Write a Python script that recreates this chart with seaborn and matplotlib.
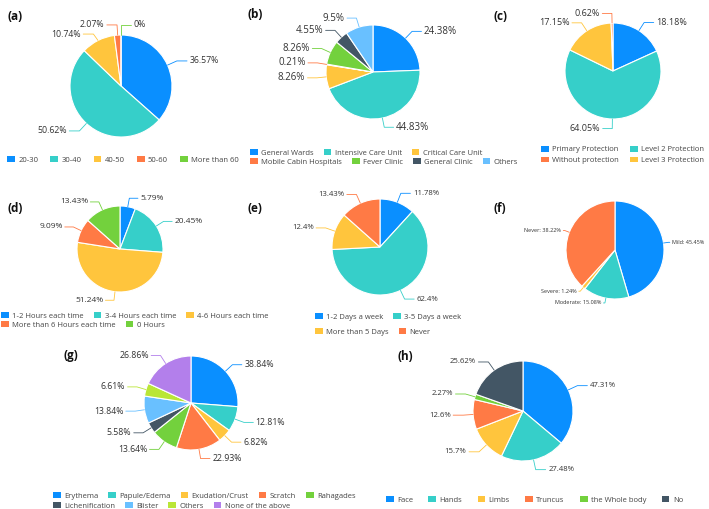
import numpy as np
import matplotlib.pyplot as plt
import seaborn as sns
from matplotlib.patches import Patch

# ---- data ----
a_labels = ['20-30', '30-40', '40-50', '50-60', 'More than 60']
a_values = [36.57, 50.62, 10.74, 2.07, 0]

b_labels = ['General Wards', 'Intensive Care Unit', 'Critical Care Unit',
            'Mobile Cabin Hospitals', 'Fever Clinic', 'General Clinic', 'Others']
b_values = [24.38, 44.83, 8.26, 0.21, 8.26, 4.55, 9.5]

c_labels = ['Primary Protection', 'Level 2 Protection', 'Level 3 Protection', 'Without protection']
c_values = [18.18, 64.05, 17.15, 0.62]

d_labels = ['1-2 Hours each time', '3-4 Hours each time', '4-6 Hours each time',
            'More than 6 Hours each time', '0 Hours']
d_values = [5.79, 20.45, 51.24, 9.09, 13.43]

e_labels = ['1-2 Days a week', '3-5 Days a week', 'More than 5 Days', 'Never']
e_values = [11.78, 62.4, 12.4, 13.43]

f_labels = ['Mild', 'Moderate', 'Severe', 'Never']
f_values = [45.45, 15.08, 1.24, 38.22]

g_labels = ['Erythema', 'Papule/Edema', 'Exudation/Crust', 'Scratch', 'Rahagades',
            'Lichenification', 'Blister', 'Others', 'None of the above']
g_values = [38.84, 12.81, 6.82, 22.93, 13.64, 5.58, 13.84, 6.61, 26.86]

h_labels = ['Face', 'Hands', 'Limbs', 'Truncus', 'the Whole body', 'No']
h_values = [47.31, 27.48, 15.7, 12.6, 2.27, 25.62]

# colours
BLUE, TEAL, GOLD, ORANGE = '#0A8FFF', '#36CFC9', '#FFC53D', '#FF7A45'
GREEN, DARK, LIGHT, LIME, PURPLE = '#73D13D', '#435665', '#69C0FF', '#BAE637', '#B37FEB'

sns.set_theme(style='white')
plt.rcParams['font.family'] = ['Open Sans', 'DejaVu Sans']

W, H = 709, 509
fig = plt.figure(figsize=(W / 100, H / 100), dpi=100)


def fx(x):
    return x / W


def fy(y):
    return 1 - y / H


def pie_panel(cx, cy, r, values, colors, texts, fs, ext=0.2, elbow=1.2):
    span = 1.9
    ax = fig.add_axes([fx(cx - span * r), fy(cy + span * r), 2 * span * r / W, 2 * span * r / H])
    wedges, _ = ax.pie(values, colors=colors, startangle=90, counterclock=False,
                       radius=1, wedgeprops=dict(edgecolor='white', linewidth=0.8))
    ax.set_xlim(-span, span)
    ax.set_ylim(-span, span)
    ax.axis('off')

    # label anchors, then push apart on each side
    items = []
    for w, t, c in zip(wedges, texts, colors):
        ang = np.deg2rad((w.theta1 + w.theta2) / 2)
        ca, sa = np.cos(ang), np.sin(ang)
        side = 1 if ca >= -1e-6 else -1
        items.append(dict(ca=ca, sa=sa, side=side, y=elbow * sa, t=t, c=c))
    gap = fs * 1.45 / r
    for side in (1, -1):
        grp = sorted([i for i in items if i['side'] == side], key=lambda i: -i['y'])
        for k in range(1, len(grp)):
            if grp[k - 1]['y'] - grp[k]['y'] < gap:
                grp[k]['y'] = grp[k - 1]['y'] - gap
    for i in items:
        ex, ey = elbow * i['ca'], i['y']
        tx = ex + i['side'] * ext
        ax.plot([i['ca'], ex, tx], [i['sa'], ey, ey], color=i['c'], lw=0.6,
                solid_capstyle='round', clip_on=False)
        ax.text(tx + i['side'] * 0.05, ey, i['t'], fontsize=fs, color='#333333',
                ha='left' if i['side'] > 0 else 'right', va='center')
    return ax


def legend_row(labels, colors, x, y, fs=5.5, ncol=None, colsp=1.3):
    handles = [Patch(facecolor=c, edgecolor='none') for c in colors]
    fig.legend(handles, labels, loc='center left', bbox_to_anchor=(fx(x), fy(y)),
               ncol=ncol or len(labels), frameon=False, fontsize=fs,
               handlelength=1.0, handleheight=0.75, handletextpad=0.45,
               columnspacing=colsp, borderpad=0, borderaxespad=0, labelspacing=0.4,
               labelcolor='#444444')


def letter(s, x, y):
    fig.text(fx(x), fy(y), s, fontsize=8.5, fontweight='bold', va='center', ha='left',
             color='#111111')


def pct(vals):
    return [f'{v:g}%' for v in vals]


# (a)
a_col = [BLUE, TEAL, GOLD, ORANGE, GREEN]
pie_panel(121, 86, 51, a_values, a_col, pct(a_values), 6.3)
legend_row(a_labels, a_col, 7, 160, colsp=1.6)
letter('(a)', 7, 16)

# (b)
b_col = [BLUE, TEAL, GOLD, ORANGE, GREEN, DARK, LIGHT]
pie_panel(373, 72, 47, b_values, b_col, pct(b_values), 7)
legend_row(b_labels[:3], b_col[:3], 250, 153)
legend_row(b_labels[3:], b_col[3:], 250, 162)
letter('(b)', 247, 15)

# (c)
c_col = [BLUE, TEAL, GOLD, ORANGE]
pie_panel(613, 71, 48, c_values, c_col, pct(c_values), 6.5)
legend_row([c_labels[0], c_labels[3], c_labels[1], c_labels[2]],
           [c_col[0], c_col[3], c_col[1], c_col[2]], 541, 155, ncol=2, colsp=1.5)
letter('(c)', 494, 17)

# (d)
d_col = [BLUE, TEAL, GOLD, ORANGE, GREEN]
pie_panel(120, 249, 43, d_values, d_col, pct(d_values), 6)
legend_row(d_labels[:3], d_col[:3], 1, 316)
legend_row(d_labels[3:], d_col[3:], 1, 325)
letter('(d)', 7, 208)

# (e)
e_col = [BLUE, TEAL, GOLD, ORANGE]
pie_panel(380, 247, 48, e_values, e_col, pct(e_values), 5.6)
legend_row(e_labels[:2], e_col[:2], 315, 317)
legend_row(e_labels[2:], e_col[2:], 315, 332)
letter('(e)', 247, 208)

# (f)
f_col = [BLUE, TEAL, GOLD, ORANGE]
pie_panel(615, 250, 49, f_values, f_col,
          [f'{n}: {v:g}%' for n, v in zip(f_labels, f_values)], 4.0, ext=0.03, elbow=1.1)
letter('(f)', 494, 208)

# (g)
g_col = [BLUE, TEAL, GOLD, ORANGE, GREEN, DARK, LIGHT, LIME, PURPLE]
pie_panel(191, 403, 47, g_values, g_col, pct(g_values), 6.3)
legend_row(g_labels[:5], g_col[:5], 53, 496)
legend_row(g_labels[5:], g_col[5:], 53, 506)
letter('(g)', 63, 356)

# (h)
h_col = [BLUE, TEAL, GOLD, ORANGE, GREEN, DARK]
pie_panel(523, 411, 50, h_values, h_col, pct(h_values), 5.6)
legend_row(h_labels, h_col, 386, 500, colsp=2.0)
letter('(h)', 398, 356)

fig.savefig('out.png', dpi=100)
